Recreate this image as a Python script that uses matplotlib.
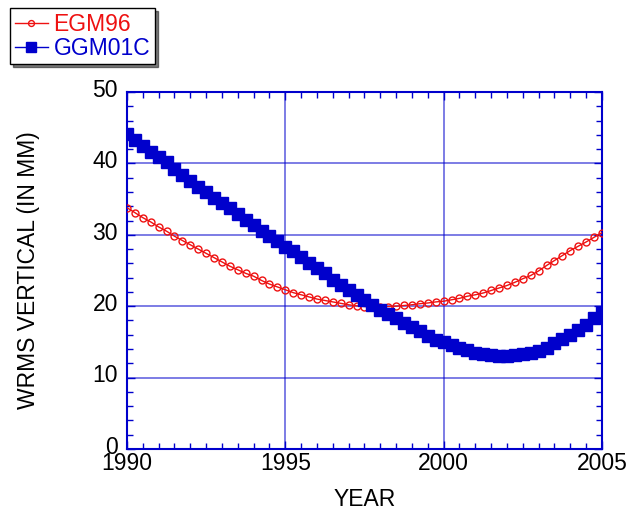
import numpy as np
import matplotlib
matplotlib.use("Agg")
import matplotlib.pyplot as plt
from matplotlib.ticker import MultipleLocator
from matplotlib.transforms import ScaledTranslation

plt.rcParams['font.family'] = ['Liberation Sans', 'DejaVu Sans']

# quarterly epochs 1990.00 .. 2005.00
years = np.arange(61) * 0.25 + 1990

egm96 = [33.8, 33.1, 32.4, 31.8, 31.1, 30.5, 29.8, 29.2, 28.6, 28.0,
         27.4, 26.8, 26.2, 25.6, 25.1, 24.6, 24.2, 23.6, 23.1, 22.7,
         22.3, 21.9, 21.6, 21.3, 21.0, 20.8, 20.6, 20.4, 20.2, 20.05,
         19.95, 19.9, 19.9, 19.95, 20.0, 20.1, 20.2, 20.35, 20.45, 20.6,
         20.7, 20.9, 21.1, 21.4, 21.6, 21.85, 22.2, 22.55, 22.9, 23.35,
         23.85, 24.3, 24.95, 25.7, 26.4, 27.1, 27.8, 28.4, 29.0, 29.65,
         30.3]

ggm01c = [44.15, 43.3, 42.5, 41.6, 40.9, 40.15, 39.2, 38.4, 37.5, 36.7,
          36.0, 35.2, 34.4, 33.7, 32.9, 32.1, 31.4, 30.6, 29.85, 29.1,
          28.3, 27.7, 26.9, 26.1, 25.3, 24.6, 23.7, 23.0, 22.3, 21.5,
          20.8, 20.1, 19.5, 18.9, 18.4, 17.7, 17.1, 16.5, 15.8, 15.3,
          15.0, 14.6, 14.2, 13.85, 13.5, 13.25, 13.1, 13.05, 13.05, 13.1,
          13.25, 13.4, 13.75, 14.2, 14.8, 15.4, 15.9, 16.7, 17.4, 18.3,
          19.1]

blue = '#0000cc'
red = '#ee1111'
fs = 16.5

fig = plt.figure(figsize=(6.28, 5.11), dpi=100)
ax = fig.add_axes([0.2022, 0.1213, 0.7564, 0.6987])

ax.plot(years, egm96, color=red, lw=1, marker='o', ms=5, mfc='none',
        mec=red, mew=1, label='EGM96', zorder=3)
ax.plot(years, ggm01c, color=blue, lw=1, marker='s', ms=9, mfc=blue,
        mec=blue, label='GGM01C', zorder=4)

ax.set_xlim(1990, 2005)
ax.set_ylim(0, 50)
ax.xaxis.set_major_locator(MultipleLocator(5))
ax.xaxis.set_minor_locator(MultipleLocator(0.5))
ax.yaxis.set_major_locator(MultipleLocator(10))
ax.yaxis.set_minor_locator(MultipleLocator(2))

ax.grid(True, which='major', color=blue, alpha=0.6, lw=1.2)
for s in ax.spines.values():
    s.set_color(blue)
    s.set_linewidth(1.5)
ax.tick_params(which='both', direction='in', top=True, right=True,
               color=blue, labelsize=fs, labelcolor='black')
ax.tick_params(which='major', length=6, width=1)
ax.tick_params(which='minor', length=4, width=1)
ax.tick_params(axis='x', pad=2)
ax.tick_params(axis='y', pad=6.5)
# y labels sit a little above their ticks in the original
for lab in ax.get_yticklabels():
    lab.set_transform(lab.get_transform() + ScaledTranslation(0, 3 / 72, fig.dpi_scale_trans))

ax.set_xlabel('YEAR', fontsize=fs)
ax.xaxis.set_label_coords(0.5, -0.108)
ax.set_ylabel('WRMS VERTICAL (IN MM)', fontsize=fs)
ax.yaxis.set_label_coords(-0.183, 0.5)

leg = fig.legend(loc='upper left', bbox_to_anchor=(0.016, 0.984),
                 fontsize=fs, frameon=True, fancybox=False,
                 shadow={'color': 'black'}, borderpad=0.2,
                 handlelength=1.45, handletextpad=0.25, labelspacing=0.05,
                 borderaxespad=0, markerscale=0.85)
leg.get_frame().set_edgecolor('black')
leg.get_frame().set_linewidth(1)
for t, c in zip(leg.get_texts(), [red, blue]):
    t.set_color(c)

fig.savefig('out.png', dpi=100)
